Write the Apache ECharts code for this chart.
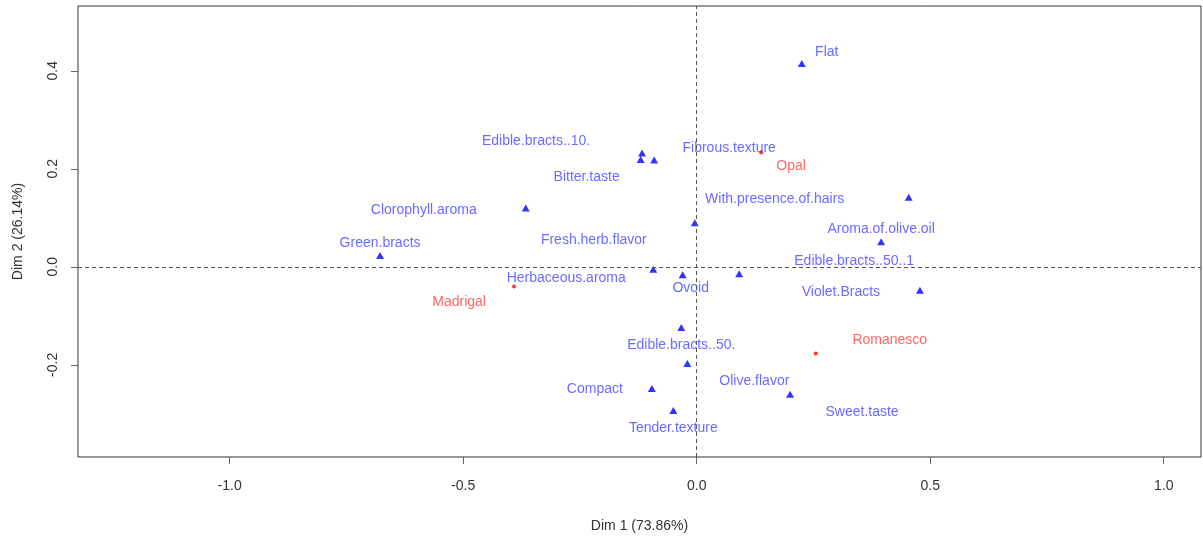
<!DOCTYPE html>
<html>
<head>
<meta charset="utf-8">
<script src="https://cdn.jsdelivr.net/npm/echarts@6/dist/echarts.min.js"></script>
<style>
  html, body { margin: 0; padding: 0; background: #ffffff; overflow: hidden; }
  #chart { width: 1203px; height: 538px; }
</style>
</head>
<body>
<div id="chart"></div>
<script>
// Correspondence analysis map: attributes (columns) and varieties (rows)
const colNames = [
  'Flat', 'Edible.bracts..10.', 'Bitter.taste', 'Fibrous.texture',
  'With.presence.of.hairs', 'Clorophyll.aroma', 'Fresh.herb.flavor',
  'Aroma.of.olive.oil', 'Green.bracts', 'Herbaceous.aroma', 'Ovoid',
  'Edible.bracts..50..1', 'Violet.Bracts', 'Edible.bracts..50.',
  'Olive.flavor', 'Compact', 'Tender.texture', 'Sweet.taste'
];
const colDim1 = [
  0.225, -0.117, -0.120, -0.091, 0.454, -0.366, -0.004, 0.395, -0.678,
  -0.093, -0.030, 0.091, 0.478, -0.033, -0.020, -0.096, -0.050, 0.200
];
const colDim2 = [
  0.415, 0.232, 0.219, 0.218, 0.142, 0.120, 0.090, 0.051, 0.023,
  -0.005, -0.016, -0.014, -0.048, -0.124, -0.197, -0.248, -0.293, -0.260
];

const rowNames = ['Opal', 'Madrigal', 'Romanesco'];
const rowDim1 = [0.138, -0.391, 0.255];
const rowDim2 = [0.233, -0.040, -0.177];

const xTicks = [-1.0, -0.5, 0.0, 0.5, 1.0];
const yTicks = [-0.2, 0.0, 0.2, 0.4];
const xTitle = 'Dim 1 (73.86%)';
const yTitle = 'Dim 2 (26.14%)';

// Label placement (pixel offsets from each mark), kept apart from the data
const colLabelOffset = [
  [25, -11], [-106, -12], [-54, 18], [75, -12],
  [-134, 2], [-102, 2], [-101, 17],
  [0, -13], [0, -12], [-87, 9], [8, 13],
  [115, -13], [-79, 2], [0, 18],
  [67, 18], [-57, 1], [0, 18], [72, 18]
];
const rowLabelOffset = [[30, 14], [-55, 16], [74, -13]];

const FONT = 'Liberation Sans, Arial, sans-serif';

function buildPoints(names, d1, d2) {
  return names.map((n, i) => ({ name: n, value: [d1[i], d2[i]] }));
}

function placeLabels(offsets) {
  return params => ({
    dx: offsets[params.dataIndex][0],
    dy: offsets[params.dataIndex][1],
    hideOverlap: false
  });
}

const chart = echarts.init(document.getElementById('chart'), null,
  { renderer: 'canvas', width: 1203, height: 538 });

const labelCommon = {
  show: true,
  position: 'inside',
  formatter: '{b}',
  fontFamily: FONT,
  fontSize: 14,
  align: 'center',
  verticalAlign: 'middle'
};

chart.setOption({
  animation: false,
  backgroundColor: '#ffffff',
  grid: {
    left: 78, top: 6, width: 1123, height: 457,
    show: true, borderColor: '#333333', borderWidth: 1,
    containLabel: false
  },
  xAxis: {
    type: 'value',
    min: -1.3248, max: 1.0799,
    name: xTitle,
    nameLocation: 'middle',
    nameGap: 62,
    nameTextStyle: { fontFamily: FONT, fontSize: 14, color: '#333333' },
    splitLine: { show: false },
    axisLine: { show: false, onZero: false },
    axisTick: {
      show: true, length: 7, inside: false,
      customValues: xTicks,
      lineStyle: { color: '#666666', width: 1 }
    },
    axisLabel: {
      customValues: xTicks,
      margin: 22,
      fontFamily: FONT, fontSize: 14, color: '#333333',
      formatter: v => v.toFixed(1)
    }
  },
  yAxis: {
    type: 'value',
    min: -0.3880, max: 0.5321,
    name: yTitle,
    nameLocation: 'middle',
    nameGap: 53,
    nameRotate: 90,
    nameTextStyle: { fontFamily: FONT, fontSize: 14, color: '#333333' },
    splitLine: { show: false },
    axisLine: { show: false, onZero: false },
    axisTick: {
      show: true, length: 7, inside: false,
      customValues: yTicks,
      lineStyle: { color: '#666666', width: 1 }
    },
    axisLabel: {
      customValues: yTicks,
      rotate: 90,
      margin: 18,
      fontFamily: FONT, fontSize: 14, color: '#333333',
      formatter: v => v.toFixed(1)
    }
  },
  series: [
    {
      // dashed reference lines through the origin
      type: 'scatter',
      data: [],
      silent: true,
      markLine: {
        silent: true,
        symbol: 'none',
        label: { show: false },
        lineStyle: { color: '#555555', type: [4, 3], width: 1 },
        data: [{ xAxis: 0 }, { yAxis: 0 }]
      }
    },
    {
      name: 'columns',
      type: 'scatter',
      symbol: 'triangle',
      symbolSize: [8, 7],
      itemStyle: { color: '#0000ff' },
      label: Object.assign({}, labelCommon, { color: '#4646ff' }),
      labelLayout: placeLabels(colLabelOffset),
      data: buildPoints(colNames, colDim1, colDim2)
    },
    {
      name: 'rows',
      type: 'scatter',
      symbol: 'circle',
      symbolSize: 4,
      itemStyle: { color: '#ff0000' },
      label: Object.assign({}, labelCommon, { color: '#ff4040' }),
      labelLayout: placeLabels(rowLabelOffset),
      data: buildPoints(rowNames, rowDim1, rowDim2)
    }
  ]
});
</script>
</body>
</html>
